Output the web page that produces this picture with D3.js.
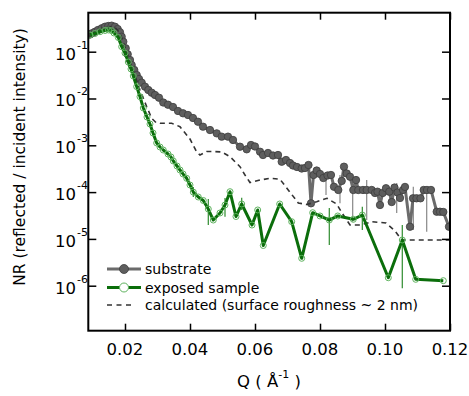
<!DOCTYPE html>
<html><head><meta charset="utf-8">
<script src="https://cdn.jsdelivr.net/npm/d3@7/dist/d3.min.js"></script>
<style>body{margin:0;background:#fff}svg{display:block;font-family:"DejaVu Sans",sans-serif}</style>
</head><body><svg id="c" width="469" height="396"></svg>
<script>
// substrate
const subQ = [0.00923,0.00985,0.01077,0.01169,0.01283,0.01385,0.01486,0.01591,0.01692,0.01775,0.01846,0.01898,0.01948,0.02022,0.02083,0.02154,0.02206,0.02286,0.0236,0.02431,0.02514,0.02615,0.02717,0.02822,0.02923,0.03046,0.03178,0.03323,0.03477,0.03631,0.03785,0.03938,0.04092,0.04246,0.044,0.04615,0.04822,0.04975,0.05169,0.05323,0.05538,0.05745,0.05877,0.06,0.06154,0.06246,0.064,0.06554,0.06708,0.06822,0.06954,0.07077,0.07169,0.07292,0.07437,0.07538,0.07646,0.07723,0.078,0.07898,0.08,0.08102,0.08231,0.08338,0.08431,0.08563,0.08668,0.08738,0.08822,0.08923,0.09025,0.09108,0.09178,0.09323,0.09437,0.09591,0.09692,0.09769,0.09846,0.09929,0.10031,0.10132,0.10206,0.10292,0.10385,0.10462,0.10554,0.10615,0.10769,0.10862,0.10969,0.11092,0.11191,0.11292,0.11415,0.11591,0.11692,0.11794,0.11969];
const subR = [0.233,0.247,0.267,0.291,0.316,0.342,0.354,0.360,0.342,0.305,0.260,0.209,0.1636,0.1182,0.0880,0.0665,0.0520,0.0406,0.0318,0.0261,0.0218,0.0179,0.0152,0.0133,0.01188,0.0104,0.00821,0.00737,0.00658,0.00541,0.00483,0.00444,0.00383,0.00319,0.00250,0.00212,0.00180,0.00153,0.00153,0.00130,0.000933,0.000821,0.001015,0.000943,0.000730,0.000620,0.000685,0.000605,0.000620,0.000446,0.000485,0.000418,0.000370,0.000344,0.000319,0.000327,0.000379,0.0000576,0.000232,0.000289,0.000244,0.000200,0.000226,0.000232,0.000130,0.000111,0.000173,0.000349,0.000250,0.000213,0.000111,0.000181,0.000111,0.000111,0.000111,0.000111,0.0000957,0.000102,0.0000530,0.0000957,0.000121,0.000102,0.0000614,0.000125,0.0000981,0.0000748,0.000111,0.000129,0.0000182,0.0000737,0.0000737,0.0000737,0.000111,0.000111,0.000111,0.0000381,0.0000381,0.0000376,0.0000182];
const subErrQ = [0.08185,0.08615,0.09006,0.09437,0.10360,0.10871,0.11283];
const subErrLo = [0.0000867,0.0000576,0.0000233,0.0000253,0.0000358,0.0000155,0.0000143];
const subErrHi = [0.000213,0.000232,0.0000957,0.000181,0.000157,0.000130,0.000111];
// exposed sample
const expQ = [0.00923,0.01077,0.01231,0.01385,0.01492,0.01591,0.01662,0.01794,0.01898,0.02,0.02102,0.02185,0.02255,0.0236,0.02462,0.02563,0.02677,0.02769,0.02862,0.02975,0.03077,0.03178,0.03323,0.03415,0.03486,0.036,0.03692,0.03785,0.03898,0.04,0.04102,0.04255,0.04409,0.04563,0.04717,0.04923,0.05077,0.05231,0.05415,0.05591,0.05908,0.06083,0.06255,0.0676,0.07129,0.07437,0.07775,0.08,0.08286,0.08545,0.09025,0.09302,0.10102,0.10532,0.10945,0.11794];
const expR = [0.2274,0.2448,0.267,0.284,0.291,0.281,0.251,0.201,0.128,0.0938,0.0602,0.0427,0.0303,0.0179,0.01093,0.00627,0.00402,0.00285,0.00183,0.00112,0.000920,0.000793,0.000652,0.000562,0.000462,0.000361,0.000297,0.000244,0.000197,0.000142,0.000100,0.0000786,0.0000662,0.0000435,0.0000253,0.0000358,0.0000530,0.000102,0.0000301,0.0000557,0.0000198,0.0000415,0.00000723,0.0000557,0.0000233,0.00000385,0.0000363,0.0000309,0.0000253,0.0000309,0.0000262,0.0000324,0.00000148,0.00000947,0.00000137,0.00000128];
const expErrQ = [0.04102,0.04563,0.05077,0.05591,0.08286,0.09302,0.10532];
const expErrLo = [0.0000786,0.0000198,0.0000298,0.0000415,0.00000741,0.0000155,0.00000088];
const expErrHi = [0.000129,0.0000712,0.0000748,0.0000759,0.0000457,0.0000488,0.0000198];
// calculated
const calcQ = [0.00923,0.01231,0.01538,0.01692,0.01846,0.02,0.02154,0.02308,0.02462,0.02668,0.02822,0.02954,0.03077,0.03437,0.03692,0.04,0.04206,0.04308,0.04514,0.04708,0.04985,0.05231,0.05538,0.05692,0.05846,0.06154,0.06462,0.06769,0.07046,0.07332,0.07591,0.07898,0.08215,0.08514,0.08677,0.08923,0.09231,0.096,0.10031,0.10308,0.10514,0.11969];
const calcR = [0.239,0.305,0.345,0.329,0.251,0.126,0.0602,0.0303,0.0152,0.00668,0.00377,0.00307,0.00295,0.00295,0.00250,0.00136,0.000719,0.000620,0.000737,0.000737,0.000719,0.000571,0.000349,0.000232,0.000160,0.000181,0.000197,0.000188,0.000106,0.0000585,0.0000543,0.0000624,0.0000737,0.0000557,0.0000358,0.0000198,0.0000198,0.0000233,0.0000219,0.0000148,0.00000947,0.00000947];
const xTicks = [0.02,0.04,0.06,0.08,0.10,0.12];
const xTickLabels = ["0.02","0.04","0.06","0.08","0.10","0.12"];
const yExps = [-1,-2,-3,-4,-5,-6];
const legendLabels = ["substrate","exposed sample","calculated (surface roughness ~ 2 nm)"];

const L=88.3,R=450,T=12.7,B=330.7;
const svg=d3.select("#c");
const x=d3.scaleLinear().domain([0.00871,0.12]).range([L,R]);
const y=d3.scaleLog().domain([1.093e-7,0.681]).range([B,T]);

svg.append("clipPath").attr("id","clip").append("rect").attr("x",L).attr("y",T).attr("width",R-L).attr("height",B-T);
const g=svg.append("g").attr("clip-path","url(#clip)");

const line=d3.line().x(d=>x(d[0])).y(d=>y(d[1]));
const calc=calcQ.map((q,i)=>[q,calcR[i]]);
const sub=subQ.map((q,i)=>[q,subR[i]]);
const exp=expQ.map((q,i)=>[q,expR[i]]);

const SUBC="#6b6b6b", GREEN="#0b6e0b", LG="#5fb35f";
g.selectAll(".se").data(subErrQ).join("line").attr("x1",d=>x(d)).attr("x2",d=>x(d))
 .attr("y1",(d,i)=>y(subErrLo[i])).attr("y2",(d,i)=>y(subErrHi[i])).attr("stroke","#888").attr("stroke-width",1.2);
g.append("path").datum(sub).attr("d",line).attr("fill","none").attr("stroke",SUBC).attr("stroke-width",3).attr("stroke-linejoin","round");
g.selectAll(".sp").data(sub).join("circle").attr("cx",d=>x(d[0])).attr("cy",d=>y(d[1])).attr("r",3.7)
 .attr("fill","#5e5e5e").attr("stroke","#3e3e3e").attr("stroke-width",0.8);
g.append("path").datum(calc).attr("d",line).attr("fill","none").attr("stroke","#333").attr("stroke-width",1.6).attr("stroke-dasharray","5,4");
g.selectAll(".ee").data(expErrQ).join("line").attr("x1",d=>x(d)).attr("x2",d=>x(d))
 .attr("y1",(d,i)=>y(expErrLo[i])).attr("y2",(d,i)=>y(expErrHi[i])).attr("stroke","#2e8b2e").attr("stroke-width",1.2);
g.append("path").datum(exp).attr("d",line).attr("fill","none").attr("stroke",GREEN).attr("stroke-width",3).attr("stroke-linejoin","round");
g.selectAll(".ep").data(exp).join("circle").attr("cx",d=>x(d[0])).attr("cy",d=>y(d[1])).attr("r",3)
 .attr("fill","none").attr("stroke",LG).attr("stroke-width",1);

const minor=d3.range(0.01,0.1201,0.002).filter(v=>v>0.0087);
const xb=svg.append("g").attr("transform",`translate(0,${B})`);
xb.call(d3.axisBottom(x).tickValues(minor).tickSizeInner(-3.5).tickSizeOuter(0).tickFormat(""));
xb.call(d3.axisBottom(x).tickValues(xTicks).tickSizeInner(-7).tickSizeOuter(0).tickFormat(""));
const xt=svg.append("g").attr("transform",`translate(0,${T})`);
xt.call(d3.axisTop(x).tickValues(minor).tickSizeInner(-3.5).tickSizeOuter(0).tickFormat(""));
xt.call(d3.axisTop(x).tickValues(xTicks).tickSizeInner(-7).tickSizeOuter(0).tickFormat(""));
const yl=svg.append("g").attr("transform",`translate(${L},0)`);
yl.call(d3.axisLeft(y).tickValues(yExps.map(e=>Math.pow(10,e))).tickSizeInner(-8).tickSizeOuter(0).tickFormat(""));
const yr=svg.append("g").attr("transform",`translate(${R},0)`);
yr.call(d3.axisRight(y).tickValues(yExps.map(e=>Math.pow(10,e))).tickSizeInner(-8).tickSizeOuter(0).tickFormat(""));
svg.selectAll(".domain").remove();
svg.selectAll(".tick line").attr("stroke","#000").attr("stroke-width",1.5);
svg.append("rect").attr("x",L).attr("y",T).attr("width",R-L).attr("height",B-T).attr("fill","none").attr("stroke","#000").attr("stroke-width",2);

svg.append("g").selectAll("text").data(xTicks).join("text").attr("x",d=>x(d)).attr("y",355)
 .attr("text-anchor","middle").attr("font-size",16.5).text((d,i)=>xTickLabels[i]);
const yt=svg.append("g").selectAll("g").data(yExps).join("g");
yt.append("text").attr("x",76).attr("y",d=>y(Math.pow(10,d))+8).attr("text-anchor","end").attr("font-size",16.5).text("10");
yt.append("text").attr("x",77).attr("y",d=>y(Math.pow(10,d))-3).attr("font-size",11).text(d=>"-"+(-d));

svg.append("text").attr("transform","translate(25,157) rotate(-90)").attr("text-anchor","middle").attr("font-size",15.5)
 .text("NR (reflected / incident intensity)");
const qt=svg.append("text").attr("x",237).attr("y",387).attr("font-size",16.5);
qt.append("tspan").text("Q ( Å");
qt.append("tspan").attr("dy",-9).attr("font-size",11).text("-1");
qt.append("tspan").attr("dy",9).text(" )");

const lg=svg.append("g");
const ly=[269,287.5,305];
lg.append("line").attr("x1",107).attr("x2",141).attr("y1",ly[0]).attr("y2",ly[0]).attr("stroke",SUBC).attr("stroke-width",3);
lg.append("circle").attr("cx",124).attr("cy",ly[0]).attr("r",4.5).attr("fill","#5e5e5e").attr("stroke","#3e3e3e").attr("stroke-width",0.8);
lg.append("line").attr("x1",107).attr("x2",141).attr("y1",ly[1]).attr("y2",ly[1]).attr("stroke",GREEN).attr("stroke-width",3);
lg.append("circle").attr("cx",124).attr("cy",ly[1]).attr("r",4.5).attr("fill","#fff").attr("stroke",LG).attr("stroke-width",1);
lg.append("line").attr("x1",107).attr("x2",135).attr("y1",ly[2]).attr("y2",ly[2]).attr("stroke","#333").attr("stroke-width",1.6).attr("stroke-dasharray","5,4.5");
lg.selectAll("text").data(legendLabels).join("text").attr("x",145).attr("y",(d,i)=>ly[i]+5).attr("font-size",14).text(d=>d);
</script></body></html>
